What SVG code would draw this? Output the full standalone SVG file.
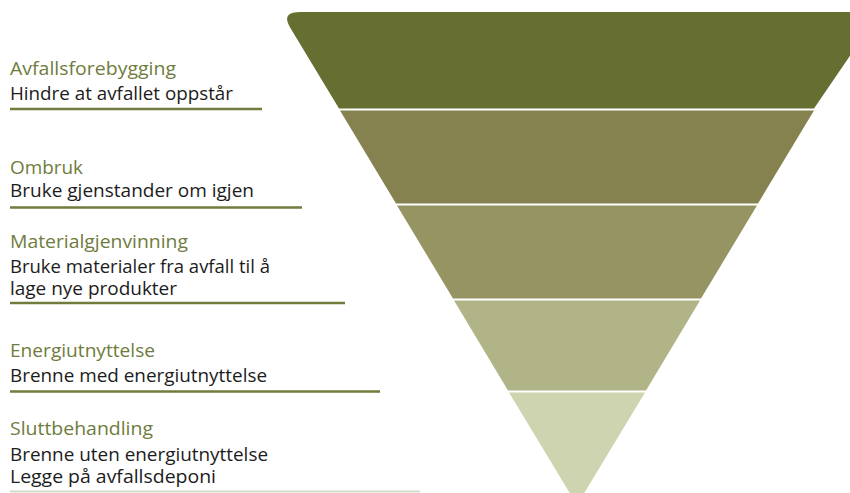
<svg xmlns="http://www.w3.org/2000/svg" width="850" height="493" viewBox="0 0 850 493">
<style>
.t{font-family:"Open Sans","Liberation Sans",Arial,sans-serif;font-size:18px;fill:#6f7c3d}
.d{font-family:"Open Sans","Liberation Sans",Arial,sans-serif;font-size:18px;fill:#1c1c1c}
.u{stroke:#6f7c3d;stroke-width:2.6;fill:none}
</style>
<rect width="850" height="493" fill="#ffffff"/>
<g id="pyramid">
<path id="band1" d="M291,29 Q280,12 300,12 L880,12 L814,108.5 L339,108.5 Z" fill="#676e31"/>
<path id="band2" d="M340,110.5 L814,110.5 L758,203.5 L396,203.5 Z" fill="#858250"/>
<path id="band3" d="M397,205.5 L757,205.5 L701,298.5 L453,298.5 Z" fill="#979463"/>
<path id="band4" d="M454,300.5 L700,300.5 L646,390.5 L508,390.5 Z" fill="#b1b487"/>
<path id="band5" d="M509,392.5 L645,392.5 L577,505 Z" fill="#ced4b0"/>
</g>
<g id="level1">
<text class="t" x="10" y="75" textLength="166" lengthAdjust="spacingAndGlyphs">Avfallsforebygging</text>
<text class="d" x="10" y="100" textLength="223" lengthAdjust="spacingAndGlyphs">Hindre at avfallet oppstår</text>
<line class="u" x1="10" y1="109" x2="262" y2="109"/>
</g>
<g id="level2">
<text class="t" x="10" y="174" textLength="73" lengthAdjust="spacingAndGlyphs">Ombruk</text>
<text class="d" x="10" y="197" textLength="244" lengthAdjust="spacingAndGlyphs">Bruke gjenstander om igjen</text>
<line class="u" x1="10" y1="207.5" x2="302" y2="207.5"/>
</g>
<g id="level3">
<text class="t" x="10" y="248" textLength="178" lengthAdjust="spacingAndGlyphs">Materialgjenvinning</text>
<text class="d" x="10" y="273" textLength="260" lengthAdjust="spacingAndGlyphs">Bruke materialer fra avfall til å</text>
<text class="d" x="10" y="295" textLength="167" lengthAdjust="spacingAndGlyphs">lage nye produkter</text>
<line class="u" x1="10" y1="303" x2="345" y2="303"/>
</g>
<g id="level4">
<text class="t" x="10" y="357" textLength="145" lengthAdjust="spacingAndGlyphs">Energiutnyttelse</text>
<text class="d" x="10" y="382" textLength="257" lengthAdjust="spacingAndGlyphs">Brenne med energiutnyttelse</text>
<line class="u" x1="10" y1="391.5" x2="380" y2="391.5"/>
</g>
<g id="level5">
<text class="t" x="10" y="435" textLength="143" lengthAdjust="spacingAndGlyphs">Sluttbehandling</text>
<text class="d" x="10" y="461" textLength="258" lengthAdjust="spacingAndGlyphs">Brenne uten energiutnyttelse</text>
<text class="d" x="10" y="483" textLength="206" lengthAdjust="spacingAndGlyphs">Legge på avfallsdeponi</text>
<line x1="10" y1="491.5" x2="420" y2="491.5" stroke="#d6dac8" stroke-width="2"/>
</g>
<g id="connectors"/>
</svg>
